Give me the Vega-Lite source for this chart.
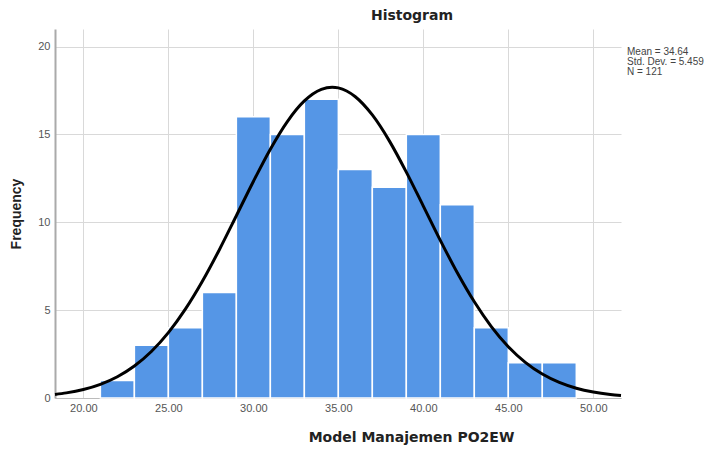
{
  "$schema": "https://vega.github.io/schema/vega-lite/v6.json",
  "width": 566,
  "height": 369,
  "autosize": {"type": "none"},
  "padding": {"left": 55, "top": 29, "right": 90, "bottom": 52},
  "background": "white",
  "title": {"text": "Histogram", "anchor": "middle", "frame": "group", "dx": 74, "offset": 6, "font": "DejaVu Sans", "fontSize": 14, "fontWeight": "bold", "color": "#222222"},
  "config": {
    "view": {"stroke": null},
    "axis": {"gridColor": "#d9d9d9", "gridWidth": 1, "ticks": false, "labelFont": "Liberation Sans", "labelFontSize": 11, "labelColor": "#555555"}
  },
  "datasets": {
    "bins": [
      {"bin_start": 21, "bin_end": 23, "count": 1},
      {"bin_start": 23, "bin_end": 25, "count": 3},
      {"bin_start": 25, "bin_end": 27, "count": 4},
      {"bin_start": 27, "bin_end": 29, "count": 6},
      {"bin_start": 29, "bin_end": 31, "count": 16},
      {"bin_start": 31, "bin_end": 33, "count": 15},
      {"bin_start": 33, "bin_end": 35, "count": 17},
      {"bin_start": 35, "bin_end": 37, "count": 13},
      {"bin_start": 37, "bin_end": 39, "count": 12},
      {"bin_start": 39, "bin_end": 41, "count": 15},
      {"bin_start": 41, "bin_end": 43, "count": 11},
      {"bin_start": 43, "bin_end": 45, "count": 4},
      {"bin_start": 45, "bin_end": 47, "count": 2},
      {"bin_start": 47, "bin_end": 49, "count": 2}
    ],
    "curve": [
      {"x": 18.33, "density": 0.204},
      {"x": 19, "density": 0.292},
      {"x": 20, "density": 0.485},
      {"x": 21, "density": 0.780},
      {"x": 22, "density": 1.212},
      {"x": 23, "density": 1.821},
      {"x": 24, "density": 2.647},
      {"x": 25, "density": 3.720},
      {"x": 26, "density": 5.054},
      {"x": 27, "density": 6.642},
      {"x": 28, "density": 8.440},
      {"x": 29, "density": 10.372},
      {"x": 30, "density": 12.324},
      {"x": 31, "density": 14.161},
      {"x": 32, "density": 15.734},
      {"x": 33, "density": 16.906},
      {"x": 34, "density": 17.565},
      {"x": 34.64, "density": 17.686},
      {"x": 35, "density": 17.648},
      {"x": 36, "density": 17.145},
      {"x": 37, "density": 16.108},
      {"x": 38, "density": 14.634},
      {"x": 39, "density": 12.856},
      {"x": 40, "density": 10.922},
      {"x": 41, "density": 8.972},
      {"x": 42, "density": 7.127},
      {"x": 43, "density": 5.475},
      {"x": 44, "density": 4.067},
      {"x": 45, "density": 2.921},
      {"x": 46, "density": 2.029},
      {"x": 47, "density": 1.363},
      {"x": 48, "density": 0.885},
      {"x": 49, "density": 0.556},
      {"x": 50, "density": 0.338},
      {"x": 51, "density": 0.198},
      {"x": 51.63, "density": 0.139}
    ],
    "stats": [
      {"lines": ["Mean = 34.64", "Std. Dev. = 5.459", "N = 121"]}
    ]
  },
  "layer": [
    {
      "data": {"name": "bins"},
      "mark": {"type": "bar", "orient": "vertical", "color": "#5596e6", "stroke": "white", "strokeWidth": 1.5},
      "encoding": {
        "x": {
          "field": "bin_start", "type": "quantitative",
          "scale": {"domain": [18.33, 51.63], "nice": false, "zero": false, "padding": 0},
          "axis": {
            "title": "Model Manajemen  PO2EW",
            "titleFont": "DejaVu Sans", "titleFontSize": 14, "titleFontWeight": "bold", "titleColor": "#222222",
            "titleX": 356, "titleY": 39, "titleAlign": "center", "titleBaseline": "middle",
            "values": [20, 25, 30, 35, 40, 45, 50], "format": ".2f",
            "labelPadding": 4, "domainColor": "#bbbbbb", "domainWidth": 1, "grid": true
          }
        },
        "x2": {"field": "bin_end"},
        "y": {
          "field": "count", "type": "quantitative",
          "scale": {"domain": [0, 21], "nice": false, "padding": 0},
          "axis": {
            "title": "Frequency",
            "titleFont": "Liberation Sans", "titleFontSize": 14, "titleFontWeight": "bold", "titleColor": "#222222",
            "titlePadding": 14,
            "values": [0, 5, 10, 15, 20], "labelPadding": 5,
            "domainColor": "#aaaaaa", "domainWidth": 2, "grid": true
          }
        },
        "y2": {"datum": 0}
      }
    },
    {
      "data": {"name": "curve"},
      "mark": {"type": "line", "color": "black", "strokeWidth": 3, "interpolate": "monotone"},
      "encoding": {
        "x": {"field": "x", "type": "quantitative"},
        "y": {"field": "density", "type": "quantitative"}
      }
    },
    {
      "data": {"name": "stats"},
      "mark": {"type": "text", "align": "left", "baseline": "top", "dx": 6, "dy": 0, "font": "Liberation Sans", "fontSize": 10, "lineHeight": 10, "color": "#444444"},
      "encoding": {
        "x": {"datum": 51.63},
        "y": {"datum": 20},
        "text": {"field": "lines"}
      }
    }
  ]
}
